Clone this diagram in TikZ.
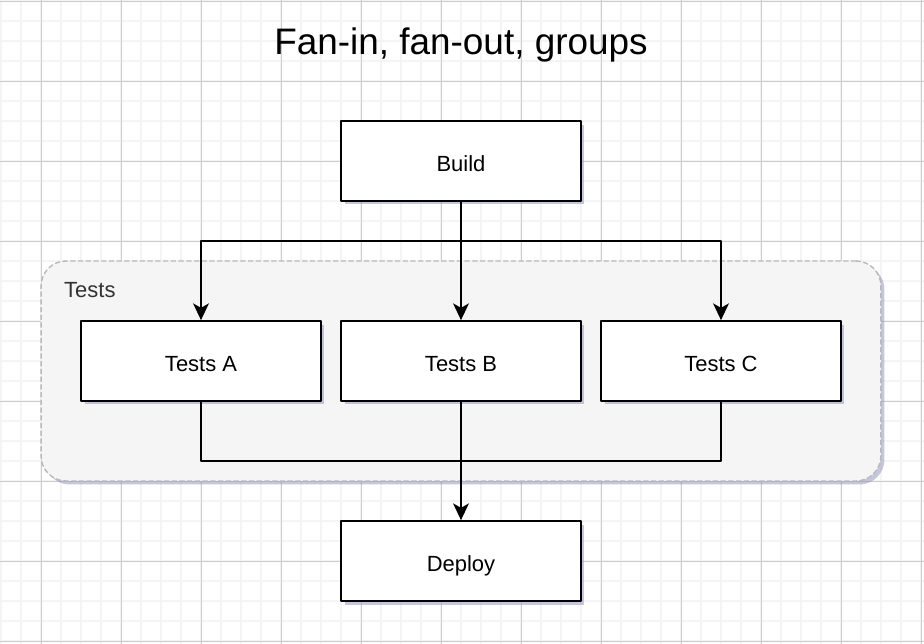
\documentclass[tikz,border=0pt]{standalone}
\usepackage{fontspec}
\setmainfont{Liberation Sans}
\usetikzlibrary{arrows.meta,shadows}

\begin{document}
\begin{tikzpicture}[x=0.02cm,y=-0.02cm,line cap=round,line join=round,
  minorline/.style={draw=gray!9,line width=0.9pt},
  majorline/.style={draw=gray!40,line width=0.5pt},
  shade/.style={drop shadow={shadow xshift=2pt,shadow yshift=-2pt,fill=blue!25!gray!70,opacity=0.5}},
  box/.style={draw,fill=white,line width=1pt,minimum width=4.8cm,minimum height=1.6cm,
    text height=12.5pt,text depth=0pt,font=\fontsize{12.5}{15}\selectfont,shade},
  group/.style={draw=gray!55,fill=gray!8,line width=0.8pt,dash pattern=on 2.6pt off 1.8pt,
    rounded corners=0.5cm,minimum width=16.8cm,minimum height=4.4cm,shade},
  wire/.style={line width=1pt},
  arr/.style={wire,-{Stealth[length=9.5pt,width=9pt,inset=2.5pt]}}]
\useasboundingbox (0,0) rectangle (924,644);
\fill[white] (0,0) rectangle (924,644);
% grid
\foreach \k in {0,...,46} {
  \draw[minorline] (1+20*\k,0) -- (1+20*\k,644);
}
\foreach \k in {0,...,32} {
  \draw[minorline] (0,1+20*\k) -- (924,1+20*\k);
}
\foreach \x in {41,121,...,921} {
  \draw[majorline] (\x,0) -- (\x,644);
}
\foreach \y in {1,81,...,641} {
  \draw[majorline] (0,\y) -- (924,\y);
}
% title
\node[font=\fontsize{21}{25}\selectfont] (title) at (461,45) {Fan-in, fan-out, groups};
% group
\node[group] (grp) at (461,371) {};
\node[anchor=west,text=black!80,font=\fontsize{12.5}{15}\selectfont] (grplabel) at (58,290) {Tests};
% boxes
\node[box] (build) at (461,161) {Build};
\node[box] (testa) at (201,361) {Tests A};
\node[box] (testb) at (461,361) {Tests B};
\node[box] (testc) at (721,361) {Tests C};
\node[box] (deploy) at (461,561) {Deploy};
% fan-out
\coordinate (split) at (461,241);
\draw[wire] (build.south) -- (split);
\draw[arr] (split) -| (testa.north);
\draw[arr] (split) -| (testc.north);
\draw[arr] (split) -- (testb.north);
% fan-in
\coordinate (join) at (461,461);
\draw[wire] (testa.south) |- (join);
\draw[wire] (testc.south) |- (join);
\draw[arr] (testb.south) -- (deploy.north);
\end{tikzpicture}
\end{document}
